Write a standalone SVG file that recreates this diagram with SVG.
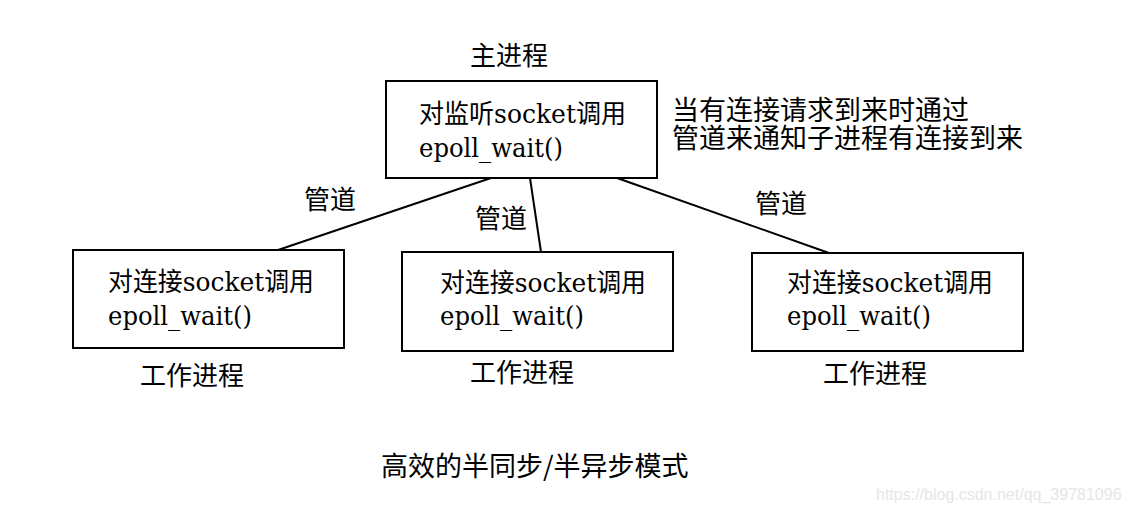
<svg xmlns="http://www.w3.org/2000/svg" width="1129" height="513" viewBox="0 0 1129 513">
<style>
.box{fill:#fff;stroke:#000;stroke-width:2}
.t{font-family:'DejaVu Serif','Noto Sans CJK SC',serif;font-size:26px;fill:#000}
.c{font-family:'Noto Sans CJK SC',sans-serif;font-size:26px;fill:#000}
.big{font-size:27px}
.w{font-family:'Liberation Sans',Arial,sans-serif;font-size:16px;fill:#e6e6e6}
line{stroke:#000;stroke-width:2}
</style>
<rect width="1129" height="513" fill="#fff"/>
<g id="connectors">
<line x1="491" y1="178" x2="278" y2="250"/>
<line x1="530" y1="178" x2="541" y2="252"/>
<line x1="617" y1="178" x2="829" y2="253"/>
<text class="c" x="304" y="209">管道</text>
<text class="c" x="475" y="228">管道</text>
<text class="c" x="755" y="213">管道</text>
</g>
<g id="master">
<text class="c" x="470" y="65">主进程</text>
<rect class="box" x="386" y="81" width="271" height="97"/>
<text class="t" x="419" y="123" textLength="207" lengthAdjust="spacingAndGlyphs">对监听socket调用</text>
<text class="t" x="419" y="157" textLength="144" lengthAdjust="spacingAndGlyphs">epoll_wait()</text>
</g>
<g id="note">
<text class="c big" x="672" y="120">当有连接请求到来时通过</text>
<text class="c big" x="672" y="148">管道来通知子进程有连接到来</text>
</g>
<g id="worker1">
<rect class="box" x="73" y="250" width="271" height="98"/>
<text class="t" x="108" y="291" textLength="206" lengthAdjust="spacingAndGlyphs">对连接socket调用</text>
<text class="t" x="108" y="325" textLength="144" lengthAdjust="spacingAndGlyphs">epoll_wait()</text>
<text class="c" x="140" y="385">工作进程</text>
</g>
<g id="worker2">
<rect class="box" x="402" y="252" width="271" height="99"/>
<text class="t" x="440" y="292" textLength="206" lengthAdjust="spacingAndGlyphs">对连接socket调用</text>
<text class="t" x="440" y="325" textLength="144" lengthAdjust="spacingAndGlyphs">epoll_wait()</text>
<text class="c" x="470" y="382">工作进程</text>
</g>
<g id="worker3">
<rect class="box" x="752" y="253" width="271" height="98"/>
<text class="t" x="787" y="292" textLength="206" lengthAdjust="spacingAndGlyphs">对连接socket调用</text>
<text class="t" x="787" y="325" textLength="144" lengthAdjust="spacingAndGlyphs">epoll_wait()</text>
<text class="c" x="823" y="383">工作进程</text>
</g>
<text class="c big" x="381" y="476">高效的半同步/半异步模式</text>
<text class="w" x="876" y="500">https://blog.csdn.net/qq_39781096</text>
</svg>
